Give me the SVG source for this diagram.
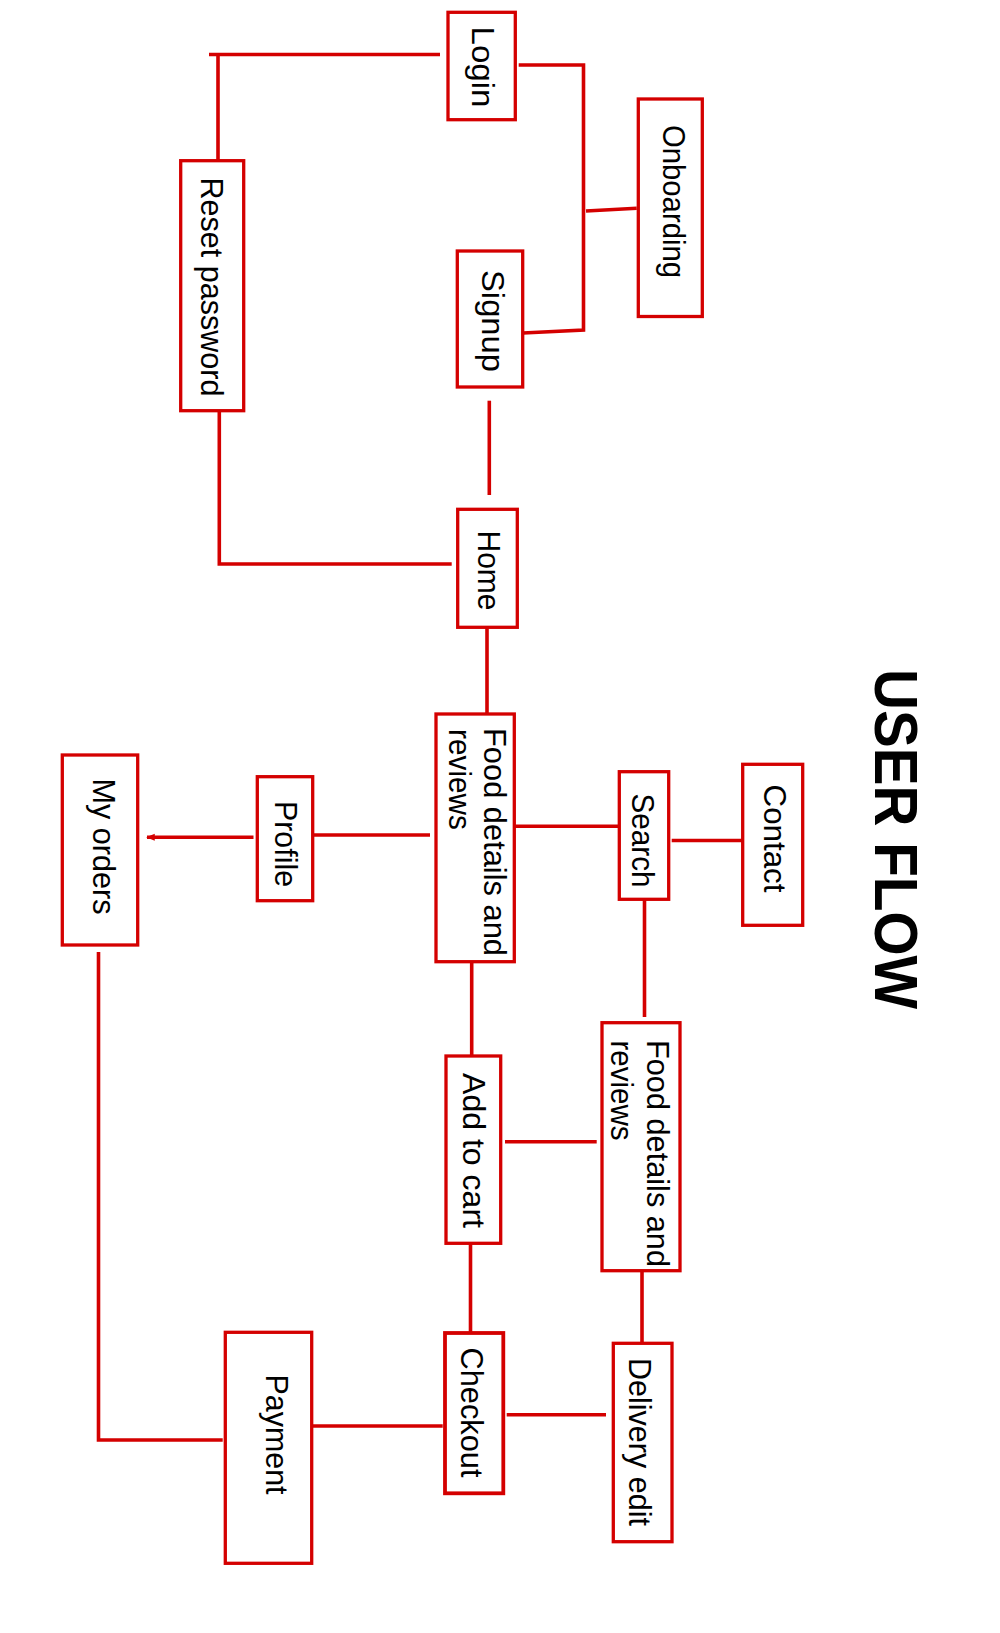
<svg xmlns="http://www.w3.org/2000/svg" width="1000" height="1633" viewBox="0 0 1000 1633">
<style>
.box{fill:#fff;stroke:#d40000;stroke-width:3.3}
.lbl{font-family:"Liberation Sans",Arial,sans-serif;font-size:32px;fill:#000}
.title{font-family:"Liberation Sans",Arial,sans-serif;font-size:62px;font-weight:bold;fill:#000}
.conn{fill:none;stroke:#d40000;stroke-width:3.6;stroke-linecap:butt}
</style>
<defs>
<marker id="arr" viewBox="0 0 10 10" refX="9" refY="5" markerWidth="3.5" markerHeight="2.4" orient="auto">
<path d="M0,1 L10,5 L0,9 z" fill="#d40000"/>
</marker>
</defs>
<rect width="1000" height="1633" fill="#fff"/>
<g id="connectors">
<path class="conn" d="M440,54.5 H209 M218,54.5 V164"/>
<path class="conn" d="M518.7,65 H583.5 V330 L523,333"/>
<path class="conn" d="M586,211 L636.7,208.3"/>
<path class="conn" d="M489.3,400.7 V495"/>
<path class="conn" d="M219.3,410.7 V564 H451.7"/>
<path class="conn" d="M487,627 V714"/>
<path class="conn" d="M515,826.3 H618.3"/>
<path class="conn" d="M671.7,840.5 H742"/>
<path class="conn" d="M312.5,835 H430"/>
<path class="conn" d="M253.5,837.3 H147" marker-end="url(#arr)"/>
<path class="conn" d="M644.5,899.5 V1017"/>
<path class="conn" d="M471.7,961.7 V1056"/>
<path class="conn" d="M505,1141.7 H596.7"/>
<path class="conn" d="M470.5,1243.3 V1333"/>
<path class="conn" d="M642,1270.7 V1343.3"/>
<path class="conn" d="M506.7,1414.7 H606"/>
<path class="conn" d="M313,1426 H442.7"/>
<path class="conn" d="M98.5,952 V1440 H222.7"/>
</g>
<g id="title">
<text class="title" transform="translate(874.5,669) rotate(90)" textLength="340" lengthAdjust="spacingAndGlyphs">USER FLOW</text>
</g>
<g id="login">
<rect class="box" x="448" y="12.3" width="67.3" height="107.4"/>
<text class="lbl" transform="translate(472,26.5) rotate(90)" textLength="81" lengthAdjust="spacingAndGlyphs">Login</text>
</g>
<g id="onboarding">
<rect class="box" x="638.3" y="99" width="64" height="217.5"/>
<text class="lbl" transform="translate(663,125) rotate(90)" textLength="153" lengthAdjust="spacingAndGlyphs">Onboarding</text>
</g>
<g id="reset-password">
<rect class="box" x="180.7" y="160.7" width="63" height="250"/>
<text class="lbl" transform="translate(201,177.5) rotate(90)" textLength="219" lengthAdjust="spacingAndGlyphs">Reset password</text>
</g>
<g id="signup">
<rect class="box" x="457.3" y="251" width="65.4" height="136"/>
<text class="lbl" transform="translate(482,270) rotate(90)" textLength="102" lengthAdjust="spacingAndGlyphs">Signup</text>
</g>
<g id="home">
<rect class="box" x="457.7" y="509.3" width="59.6" height="118"/>
<text class="lbl" transform="translate(478,530.5) rotate(90)" textLength="80" lengthAdjust="spacingAndGlyphs">Home</text>
</g>
<g id="food-details-1">
<rect class="box" x="436" y="714" width="78.3" height="247.7"/>
<text class="lbl" transform="translate(484,728) rotate(90)" textLength="228" lengthAdjust="spacingAndGlyphs">Food details and</text>
<text class="lbl" transform="translate(448.5,729) rotate(90)" textLength="101" lengthAdjust="spacingAndGlyphs">reviews</text>
</g>
<g id="search">
<rect class="box" x="619.3" y="771.7" width="49.4" height="127.6"/>
<text class="lbl" transform="translate(632,793.5) rotate(90)" textLength="94" lengthAdjust="spacingAndGlyphs">Search</text>
</g>
<g id="contact">
<rect class="box" x="742.7" y="764.3" width="60" height="161"/>
<text class="lbl" transform="translate(763.5,784.5) rotate(90)" textLength="108" lengthAdjust="spacingAndGlyphs">Contact</text>
</g>
<g id="profile">
<rect class="box" x="257.3" y="776.7" width="55.4" height="124"/>
<text class="lbl" transform="translate(275,801) rotate(90)" textLength="86" lengthAdjust="spacingAndGlyphs">Profile</text>
</g>
<g id="my-orders">
<rect class="box" x="62.3" y="755" width="75.4" height="190"/>
<text class="lbl" transform="translate(92.5,778.5) rotate(90)" textLength="136" lengthAdjust="spacingAndGlyphs">My orders</text>
</g>
<g id="food-details-2">
<rect class="box" x="602" y="1022.7" width="78" height="248"/>
<text class="lbl" transform="translate(647,1040) rotate(90)" textLength="227" lengthAdjust="spacingAndGlyphs">Food details and</text>
<text class="lbl" transform="translate(611,1040.5) rotate(90)" textLength="100" lengthAdjust="spacingAndGlyphs">reviews</text>
</g>
<g id="add-to-cart">
<rect class="box" x="446" y="1056" width="54.7" height="187.3"/>
<text class="lbl" transform="translate(463,1073) rotate(90)" textLength="155" lengthAdjust="spacingAndGlyphs">Add to cart</text>
</g>
<g id="checkout">
<rect class="box" x="445" y="1333" width="58.3" height="160.3" style="stroke-width:3.8"/>
<text class="lbl" transform="translate(460.5,1347.5) rotate(90)" textLength="130" lengthAdjust="spacingAndGlyphs">Checkout</text>
</g>
<g id="delivery-edit">
<rect class="box" x="613.3" y="1343.3" width="58.7" height="198.4"/>
<text class="lbl" transform="translate(629.3,1358) rotate(90)" textLength="168" lengthAdjust="spacingAndGlyphs">Delivery edit</text>
</g>
<g id="payment">
<rect class="box" x="225.3" y="1332.3" width="86.4" height="231"/>
<text class="lbl" transform="translate(266,1374.5) rotate(90)" textLength="120" lengthAdjust="spacingAndGlyphs">Payment</text>
</g>
</svg>
